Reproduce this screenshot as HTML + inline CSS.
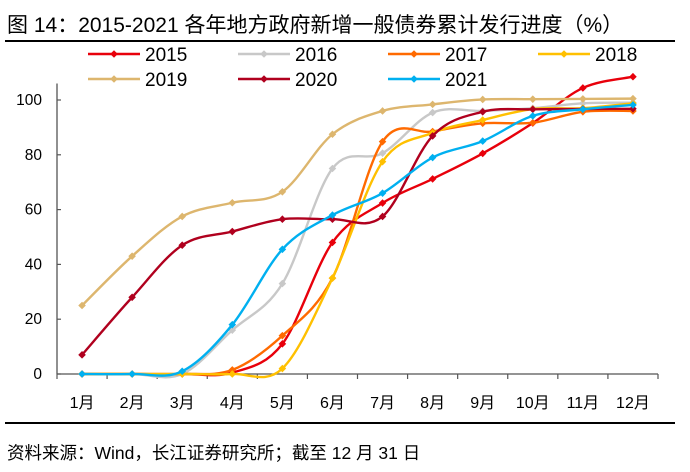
<!DOCTYPE html>
<html><head><meta charset="utf-8"><style>
body{margin:0;background:#fff;}
svg{display:block;font-family:"Liberation Sans","Noto Sans CJK SC",sans-serif;}
</style></head><body>
<svg id="chart" width="690" height="472" viewBox="0 0 690 472">
<text x="7" y="32" font-size="21" fill="#000">图  14：2015-2021 各年地方政府新增一般债券累计发行进度（%）</text>
<line x1="5" y1="41" x2="675" y2="41" stroke="#000" stroke-width="2"/>
<line x1="5" y1="423" x2="675" y2="423" stroke="#000" stroke-width="2"/>
<text x="7" y="459" font-size="17.5" fill="#000">资料来源：Wind，长江证券研究所；截至 12 月 31 日</text>
<g id="axes"></g><g id="series"></g><g id="legend"></g>
</svg>
<script>
const categories=["1月","2月","3月","4月","5月","6月","7月","8月","9月","10月","11月","12月"];
const yTicks=[0,20,40,60,80,100];
const seriesNames=["2015","2016","2017","2018","2019","2020","2021"];
const s2015=[0,0,0,0.5,11,48,62.4,71.2,80.5,91.6,104.4,108.5];
const s2016=[0,0,0,16,33,75,80.6,95.4,96,97,98.8,99];
const s2017=[0,0,0,1.5,14,35,84.8,88.5,91.5,91.7,95.7,96];
const s2018=[0,0,0,0,2,35,77.5,88,92.7,96.7,97,98.8];
const s2019=[25,43,57.5,62.5,66.5,87.5,96,98.4,100.2,100.3,100.4,100.5];
const s2020=[7,28,47,52,56.5,56.5,57.5,86.9,95.7,96.6,96.7,96.8];
const s2021=[0,0,1,18,45.5,58,66,79,85,94.2,96.6,98.2];
const seriesData=[s2015,s2016,s2017,s2018,s2019,s2020,s2021];
const colors=["#E8000B","#C8C8C8","#FF6A00","#FFC000","#DDB66E","#B0001E","#00B0F0"];
const NS="http://www.w3.org/2000/svg";
const X0=57,X1=658,Y0=374,Y100=100;
const band=(X1-X0)/categories.length;
const xs=i=>X0+band*(i+0.5);
const ys=v=>Y0-(v/100)*(Y0-Y100);
function mk(tag,attrs,parent){const e=document.createElementNS(NS,tag);for(const k in attrs)e.setAttribute(k,attrs[k]);parent.appendChild(e);return e;}
const axes=document.getElementById('axes');
let a=mk('line',{x1:X0,y1:Y0,x2:X1,y2:Y0,stroke:'#555','stroke-width':1.3},axes);


a=mk('line',{x1:X0,y1:Y0,x2:X0,y2:ys(106),stroke:'#555','stroke-width':1.3},axes);


yTicks.forEach(t=>{
  const l=mk('line',{x1:X0,y1:ys(t),x2:X0+4,y2:ys(t),stroke:'#555','stroke-width':1.2},axes);
  
  
  const tx=mk('text',{x:X0-15,y:ys(t)+5,'font-size':15.5,'text-anchor':'end',fill:'#000'},axes);
  tx.textContent=t;
  
  
});
for(let i=0;i<=categories.length;i++){
  const l=mk('line',{x1:X0+band*i,y1:Y0,x2:X0+band*i,y2:Y0+5,stroke:'#555','stroke-width':1.2},axes);
  
  
}
categories.forEach((c,i)=>{
  const tx=mk('text',{x:xs(i),y:408,'font-size':16,'text-anchor':'middle',fill:'#000'},axes);
  tx.textContent=c;
  
  
});
function smooth(pts){
  let d=`M${pts[0][0]},${pts[0][1]}`;
  for(let i=0;i<pts.length-1;i++){
    const p0=pts[i-1]||pts[i],p1=pts[i],p2=pts[i+1],p3=pts[i+2]||p2,t=1/6;
    d+=` C${p1[0]+(p2[0]-p0[0])*t},${p1[1]+(p2[1]-p0[1])*t} ${p2[0]-(p3[0]-p1[0])*t},${p2[1]-(p3[1]-p1[1])*t} ${p2[0]},${p2[1]}`;
  }
  return d;
}
function diamond(x,y,r){return `M${x},${y-r} L${x+r},${y} L${x},${y+r} L${x-r},${y} Z`;}
const sg=document.getElementById('series');
seriesData.forEach((data,si)=>{
  const g=mk('g',{},sg);
  
  
  const pts=data.map((v,i)=>[xs(i),ys(v)]);
  const p=mk('path',{d:smooth(pts),fill:'none',stroke:colors[si],'stroke-width':2.4},g);
  
  
  pts.forEach(pt=>{
    const m=mk('path',{d:diamond(pt[0],pt[1],3.8),fill:colors[si]},g);
    
    
  });
});
const lg=document.getElementById('legend');
seriesNames.forEach((n,i)=>{
  const col=i<4?i:i-4,row=i<4?0:1;
  const x=88+col*150,y=54+row*25;
  const g=mk('g',{},lg);
  
  
  mk('line',{x1:x,y1:y,x2:x+52,y2:y,stroke:colors[i],'stroke-width':2.5},g);
  mk('path',{d:diamond(x+26,y,3.8),fill:colors[i]},g);
  const t=mk('text',{x:x+57,y:y+7,'font-size':19,fill:'#000'},g);
  t.textContent=n;
});
</script>
</body></html>
